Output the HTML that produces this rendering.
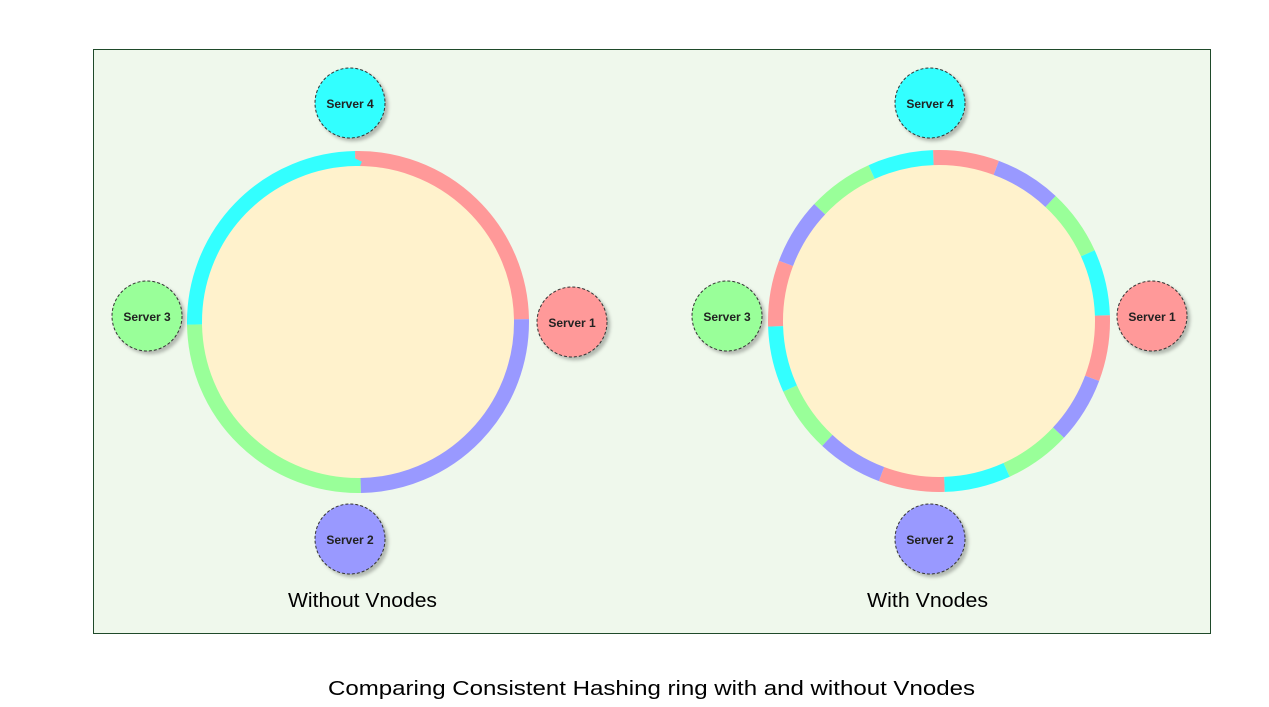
<!DOCTYPE html>
<html><head><meta charset="utf-8"><style>
html,body{margin:0;padding:0;background:#fff;}
svg{display:block;}
text{font-family:"Liberation Sans",Arial,sans-serif;}
</style></head><body>
<svg width="1269" height="707" viewBox="0 0 1269 707" xmlns="http://www.w3.org/2000/svg">
<defs>
<filter id="sh" x="-30%" y="-30%" width="160%" height="160%"><feDropShadow dx="3" dy="3" stdDeviation="1.5" flood-color="#000" flood-opacity="0.25"/></filter>
</defs>
<rect x="93.5" y="49.5" width="1117" height="584" fill="#eff8ec" stroke="#1f4a2a" stroke-width="1"/>

<!-- left ring -->
<circle cx="358" cy="322" r="157" fill="#fff2cc"/>
<g transform="rotate(-91 358 322)" fill="none" stroke-width="15">
<circle cx="358" cy="322" r="163.5" stroke="#ff9999" stroke-dasharray="256.83 770.5" stroke-dashoffset="0"/>
<circle cx="358" cy="322" r="163.5" stroke="#9999ff" stroke-dasharray="256.83 770.5" stroke-dashoffset="-256.83"/>
<circle cx="358" cy="322" r="163.5" stroke="#99ff99" stroke-dasharray="256.83 770.5" stroke-dashoffset="-513.66"/>
<circle cx="358" cy="322" r="163.5" stroke="#33ffff" stroke-dasharray="256.83 770.5" stroke-dashoffset="-770.5"/>
</g>

<!-- right ring -->
<circle cx="939" cy="321" r="157" fill="#fff2cc"/>
<g transform="rotate(-92 939 321)" fill="none" stroke-width="15">
<circle cx="939" cy="321" r="163.5" stroke="#ff9999" stroke-dasharray="64.21 192.63" stroke-dashoffset="0"/>
<circle cx="939" cy="321" r="163.5" stroke="#9999ff" stroke-dasharray="64.21 192.63" stroke-dashoffset="-64.21"/>
<circle cx="939" cy="321" r="163.5" stroke="#99ff99" stroke-dasharray="64.21 192.63" stroke-dashoffset="-128.42"/>
<circle cx="939" cy="321" r="163.5" stroke="#33ffff" stroke-dasharray="64.21 192.63" stroke-dashoffset="-192.63"/>
</g>

<g stroke="#333" stroke-width="1" stroke-dasharray="3 2" filter="url(#sh)">
<circle cx="350" cy="103" r="35" fill="#33ffff"/>
<circle cx="572" cy="322" r="35" fill="#ff9999"/>
<circle cx="147" cy="316" r="35" fill="#99ff99"/>
<circle cx="350" cy="539" r="35" fill="#9999ff"/>
<circle cx="930" cy="103" r="35" fill="#33ffff"/>
<circle cx="1152" cy="316" r="35" fill="#ff9999"/>
<circle cx="727" cy="316" r="35" fill="#99ff99"/>
<circle cx="930" cy="539" r="35" fill="#9999ff"/>
</g>
<g font-size="12" font-weight="bold" fill="#222" text-anchor="middle">
<text x="350" y="108">Server 4</text>
<text x="572" y="327">Server 1</text>
<text x="147" y="321">Server 3</text>
<text x="350" y="544">Server 2</text>
<text x="930" y="108">Server 4</text>
<text x="1152" y="321">Server 1</text>
<text x="727" y="321">Server 3</text>
<text x="930" y="544">Server 2</text>
</g>
<g font-size="20" fill="#000">
<text x="288" y="607" textLength="149" lengthAdjust="spacingAndGlyphs">Without Vnodes</text>
<text x="867" y="607" textLength="121" lengthAdjust="spacingAndGlyphs">With Vnodes</text>
<text x="328" y="695" textLength="647" lengthAdjust="spacingAndGlyphs">Comparing Consistent Hashing ring with and without Vnodes</text>
</g>
</svg>
</body></html>
